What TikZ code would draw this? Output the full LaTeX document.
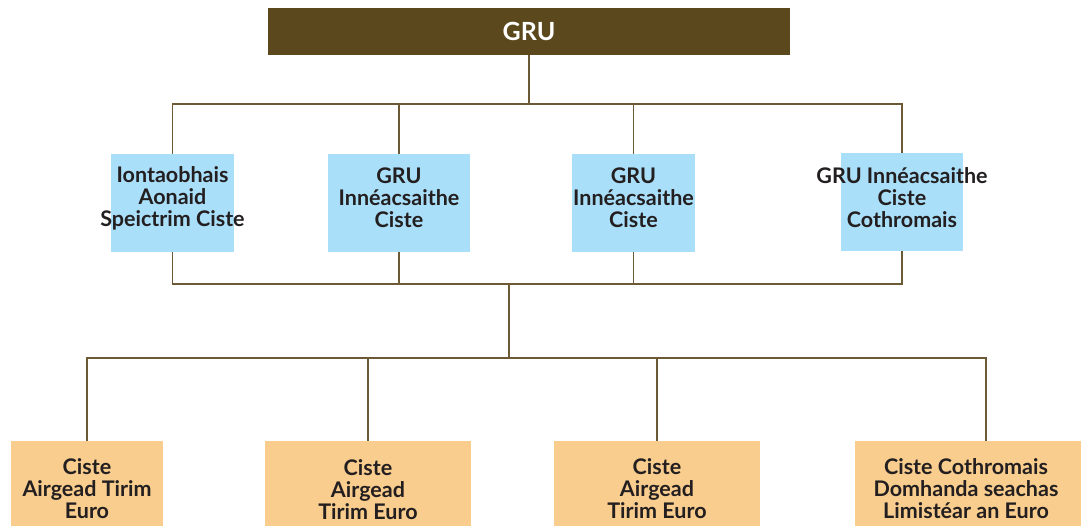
\documentclass[tikz,border=0pt]{standalone}
\usepackage{fontspec}
\setmainfont{Lato}
\definecolor{headbrown}{HTML}{5B481D}
\definecolor{linebrown}{HTML}{6B5A35}
\definecolor{fundblue}{HTML}{AADFF9}
\definecolor{cashorange}{HTML}{F9CD8E}
\definecolor{darktext}{HTML}{231F20}

\begin{document}
\begin{tikzpicture} [
    x=1pt, y=-1pt,
    line/.style     = { draw=linebrown, line width=1.4pt },
    head/.style     = { rectangle, fill=headbrown, text=white, inner sep=0pt,
                        font=\bfseries\fontsize{25}{26}\selectfont,
                        minimum width=522pt, minimum height=47pt },
    fund/.style     = { rectangle, fill=fundblue, inner sep=0pt,
                        minimum height=98pt },
    cash/.style     = { rectangle, fill=cashorange, inner sep=0pt,
                        minimum height=89pt },
    txt/.style      = { align=center, text=darktext, inner sep=0pt,
                        font=\bfseries\fontsize{21.5}{22}\selectfont },
  ]
  \clip (0,0) rectangle (1081,526);

  % junction points
  \coordinate (bus1) at (529,104);
  \coordinate (bus2) at (509,284);
  \coordinate (bus3) at (509,358);

  % boxes
  \node[head, text depth=0pt, yshift=1pt] (gru) at (529,32.5) {GRU};

  \node[fund, minimum width=123pt,
        label={[txt, yshift=5pt]center:Iontaobhais\\Aonaid\\Speictrim Ciste}] (f1) at (172.5,203) {};
  \node[fund, minimum width=142pt,
        label={[txt, yshift=5pt]center:GRU\\Innéacsaithe\\Ciste}] (f2) at (399,203) {};
  \node[fund, minimum width=123pt,
        label={[txt, yshift=5pt]center:GRU\\Innéacsaithe\\Ciste}] (f3) at (633.5,203) {};
  \node[fund, minimum width=122pt,
        label={[txt, yshift=4pt]center:GRU Innéacsaithe\\Ciste\\Cothromais}] (f4) at (902,202) {};

  \node[cash, minimum width=152pt,
        label={[txt, yshift=-3pt]center:Ciste\\Airgead Tirim\\Euro}] (c1) at (87,485.5) {};
  \node[cash, minimum width=206pt,
        label={[txt, yshift=-4pt]center:Ciste\\Airgead\\Tirim Euro}] (c2) at (368,485.5) {};
  \node[cash, minimum width=206pt,
        label={[txt, yshift=-3pt]center:Ciste\\Airgead\\Tirim Euro}] (c3) at (657,485.5) {};
  \node[cash, minimum width=262pt,
        label={[txt, xshift=-20pt, yshift=-3pt]center:Ciste Cothromais\\Domhanda seachas\\Limistéar an Euro}] (c4) at (986,485.5) {};

  % connect the nodes
  \path [line] (gru.south) -- (bus1);
  \path [line] (f1.north) |- (bus1) -| (f4.north);
  \path [line] (f2.north) -- (f2.north |- bus1);
  \path [line] (f3.north) -- (f3.north |- bus1);
  \path [line] (f1.south) |- (bus2) -| (f4.south);
  \path [line] (f2.south) -- (f2.south |- bus2);
  \path [line] (f3.south) -- (f3.south |- bus2);
  \path [line] (bus2) -- (bus3);
  \path [line] (c1.north) |- (bus3) -| (c4.north);
  \path [line] (c2.north) -- (c2.north |- bus3);
  \path [line] (c3.north) -- (c3.north |- bus3);
\end{tikzpicture}
\end{document}
